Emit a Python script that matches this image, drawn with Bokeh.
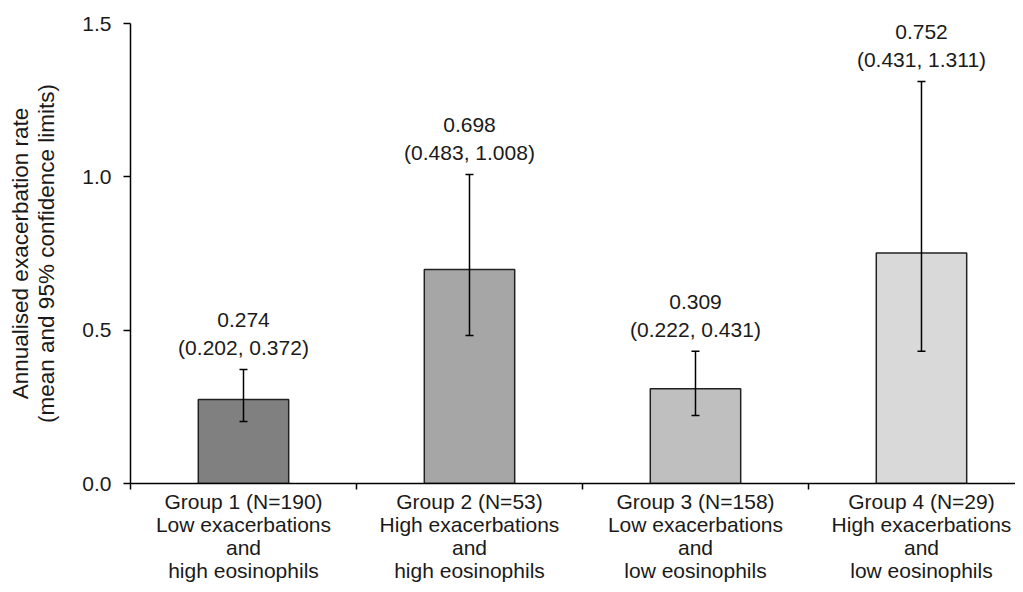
from bokeh.plotting import figure
from bokeh.models import (ColumnDataSource, Range1d, FixedTicker, Whisker,
                          TeeHead, NumeralTickFormatter)
from bokeh.core.properties import value
from bokeh.embed import file_html
from bokeh.resources import INLINE

# ---- data ----
group_names = ["Group 1 (N=190)", "Group 2 (N=53)", "Group 3 (N=158)", "Group 4 (N=29)"]
exacerbations = ["Low exacerbations", "High exacerbations", "Low exacerbations", "High exacerbations"]
eosinophils = ["high eosinophils", "high eosinophils", "low eosinophils", "low eosinophils"]
means = [0.274, 0.698, 0.309, 0.752]
lower = [0.202, 0.483, 0.222, 0.431]
upper = [0.372, 1.008, 0.431, 1.311]
bar_colors = ["#808080", "#a6a6a6", "#bfbfbf", "#d9d9d9"]
y_ticks = [0.0, 0.5, 1.0, 1.5]

FONT = "Liberation Sans"
TXT = "#1a1a1a"

xs = [i + 0.5 for i in range(len(means))]
src = ColumnDataSource(dict(
    x=xs, mean=means, lower=lower, upper=upper, color=bar_colors,
    mean_txt=[f"{m:.3f}" for m in means],
    ci_txt=[f"({l:.3f}, {u:.3f})" for l, u in zip(lower, upper)],
))

p = figure(width=1015, height=584, output_backend="svg", toolbar_location=None,
           x_range=Range1d(0, 3.916), y_range=Range1d(0, 1.5),
           min_border_left=130, min_border_right=0, min_border_top=23,
           min_border_bottom=100)
p.outline_line_color = None
p.xgrid.visible = False
p.ygrid.visible = False
p.background_fill_color = "white"
p.border_fill_color = "white"

p.vbar(x="x", top="mean", width=0.4, bottom=0, source=src, fill_color="color",
       line_color="#222222", line_width=1.5)

p.add_layout(Whisker(source=src, base="x", lower="lower", upper="upper",
                     line_color="black", line_width=1.5, level="overlay",
                     upper_head=TeeHead(size=8, line_width=1.5, line_color="black"),
                     lower_head=TeeHead(size=8, line_width=1.5, line_color="black")))

p.text(x="x", y="upper", text="mean_txt", source=src, y_offset=-49,
       text_align="center", text_baseline="middle", text_color=TXT,
       text_font=value(FONT), text_font_size="21px")
p.text(x="x", y="upper", text="ci_txt", source=src, y_offset=-22,
       text_align="center", text_baseline="middle", text_color=TXT,
       text_font=value(FONT), text_font_size="21px")

# y axis
ya = p.yaxis[0]
ya.ticker = FixedTicker(ticks=y_ticks, minor_ticks=[])
ya.formatter = NumeralTickFormatter(format="0.0")
ya.axis_line_color = "black"
ya.axis_line_width = 1.5
ya.major_tick_line_color = "black"
ya.major_tick_line_width = 1.5
ya.major_tick_out = 7
ya.major_tick_in = 0
ya.major_label_standoff = 12
ya.major_label_text_font = FONT
ya.major_label_text_font_size = "21px"
ya.major_label_text_color = TXT
ya.axis_label = "Annualised exacerbation rate\n(mean and 95% confidence limits)"
ya.axis_label_text_font = FONT
ya.axis_label_text_font_size = "22.5px"
ya.axis_label_text_font_style = "normal"
ya.axis_label_text_color = TXT
ya.axis_label_text_line_height = 1.05
ya.axis_label_standoff = 20

# x axis
xa = p.xaxis[0]
xa.ticker = FixedTicker(ticks=xs, minor_ticks=[0, 1, 2, 3, 4])
xa.major_label_overrides = {
    x: f"{g}\n{e}\nand\n{o}" for x, g, e, o in zip(xs, group_names, exacerbations, eosinophils)
}
xa.axis_line_color = "black"
xa.axis_line_width = 1.5
xa.major_tick_out = 0
xa.major_tick_in = 0
xa.minor_tick_out = 6
xa.minor_tick_in = 0
xa.minor_tick_line_color = "black"
xa.minor_tick_line_width = 1.5
xa.major_label_standoff = 0
xa.major_label_text_font = FONT
xa.major_label_text_font_size = "21px"
xa.major_label_text_color = TXT
xa.major_label_text_line_height = 1.0

open("out.html", "w").write(file_html(p, INLINE))
